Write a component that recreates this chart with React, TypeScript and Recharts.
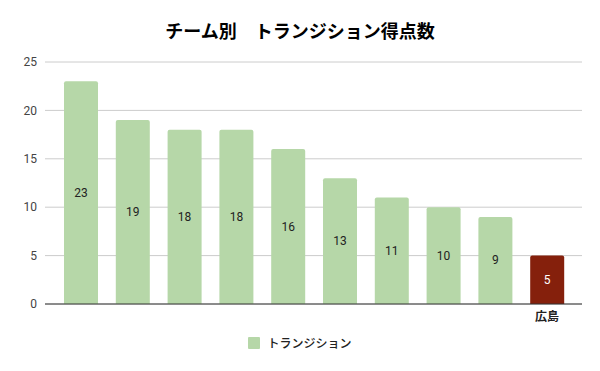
import { BarChart, Bar, XAxis, YAxis, CartesianGrid, Legend, LabelList, Cell } from "recharts";

const teams = ["", "", "", "", "", "", "", "", "", "広島"];
const transition = [23, 19, 18, 18, 16, 13, 11, 10, 9, 5];
const yTicks = [0, 5, 10, 15, 20, 25];

const GREEN = "#b6d7a8";
const RED = "#85200c";
const FONT = "Roboto, 'Noto Sans CJK JP', sans-serif";
const JP = "'Noto Sans CJK JP', sans-serif";

const data = teams.map((name, i) => ({ name, value: transition[i] }));

const renderLabel = (props: any) => {
  const { x, y, width, height, value, index } = props;
  const last = index === data.length - 1;
  return (
    <text
      x={x + width / 2}
      y={y + height / 2}
      textAnchor="middle"
      dominantBaseline="central"
      fontSize={12}
      fontFamily={FONT}
      fill={last ? "#ffffff" : "#222222"}
    >
      {value}
    </text>
  );
};

const renderLegend = (props: any) => {
  const items = props.payload || [];
  return (
    <div style={{ display: "flex", justifyContent: "center", paddingLeft: 18 }}>
      {items.map((it: any) => (
        <div key={it.value} style={{ display: "flex", alignItems: "center" }}>
          <span style={{ width: 12, height: 12, background: GREEN, borderRadius: 1, marginRight: 7 }} />
          <span style={{ fontSize: 12, color: "#222", fontFamily: JP, fontWeight: 500 }}>{it.value}</span>
        </div>
      ))}
    </div>
  );
};

export default function App() {
  return (
    <div style={{ position: "relative", width: 600, height: 371, background: "#fff" }}>
      <style>{"body{margin:0}"}</style>
      <div
        style={{
          position: "absolute",
          top: 17,
          left: 0,
          width: 600,
          textAlign: "center",
          whiteSpace: "nowrap",
          fontFamily: JP,
          fontWeight: 700,
          fontSize: 18,
          color: "#000",
        }}
      >
        チーム別　トランジション得点数
      </div>
      <BarChart width={600} height={371} data={data} margin={{ top: 62, right: 18, bottom: 0, left: 0 }}>
        <CartesianGrid vertical={false} stroke="#cccccc" />
        <XAxis
          dataKey="name"
          tickLine={false}
          axisLine={{ stroke: "#333333" }}
          padding={{ left: 10, right: 9 }}
          height={30}
          tick={{ fontSize: 12, fill: "#222", fontWeight: 700, fontFamily: JP }}
          interval={0}
        />
        <YAxis
          width={45}
          domain={[0, 25]}
          ticks={yTicks}
          tickLine={false}
          axisLine={false}
          tick={{ fontSize: 12, fill: "#444", fontFamily: FONT }}
        />
        <Legend verticalAlign="bottom" height={37} content={renderLegend} />
        <Bar dataKey="value" name="トランジション" fill={GREEN} barSize={34} radius={[2, 2, 0, 0]} isAnimationActive={false}>
          {data.map((_, i) => (
            <Cell key={i} fill={i === data.length - 1 ? RED : GREEN} />
          ))}
          <LabelList dataKey="value" content={renderLabel} />
        </Bar>
      </BarChart>
    </div>
  );
}
